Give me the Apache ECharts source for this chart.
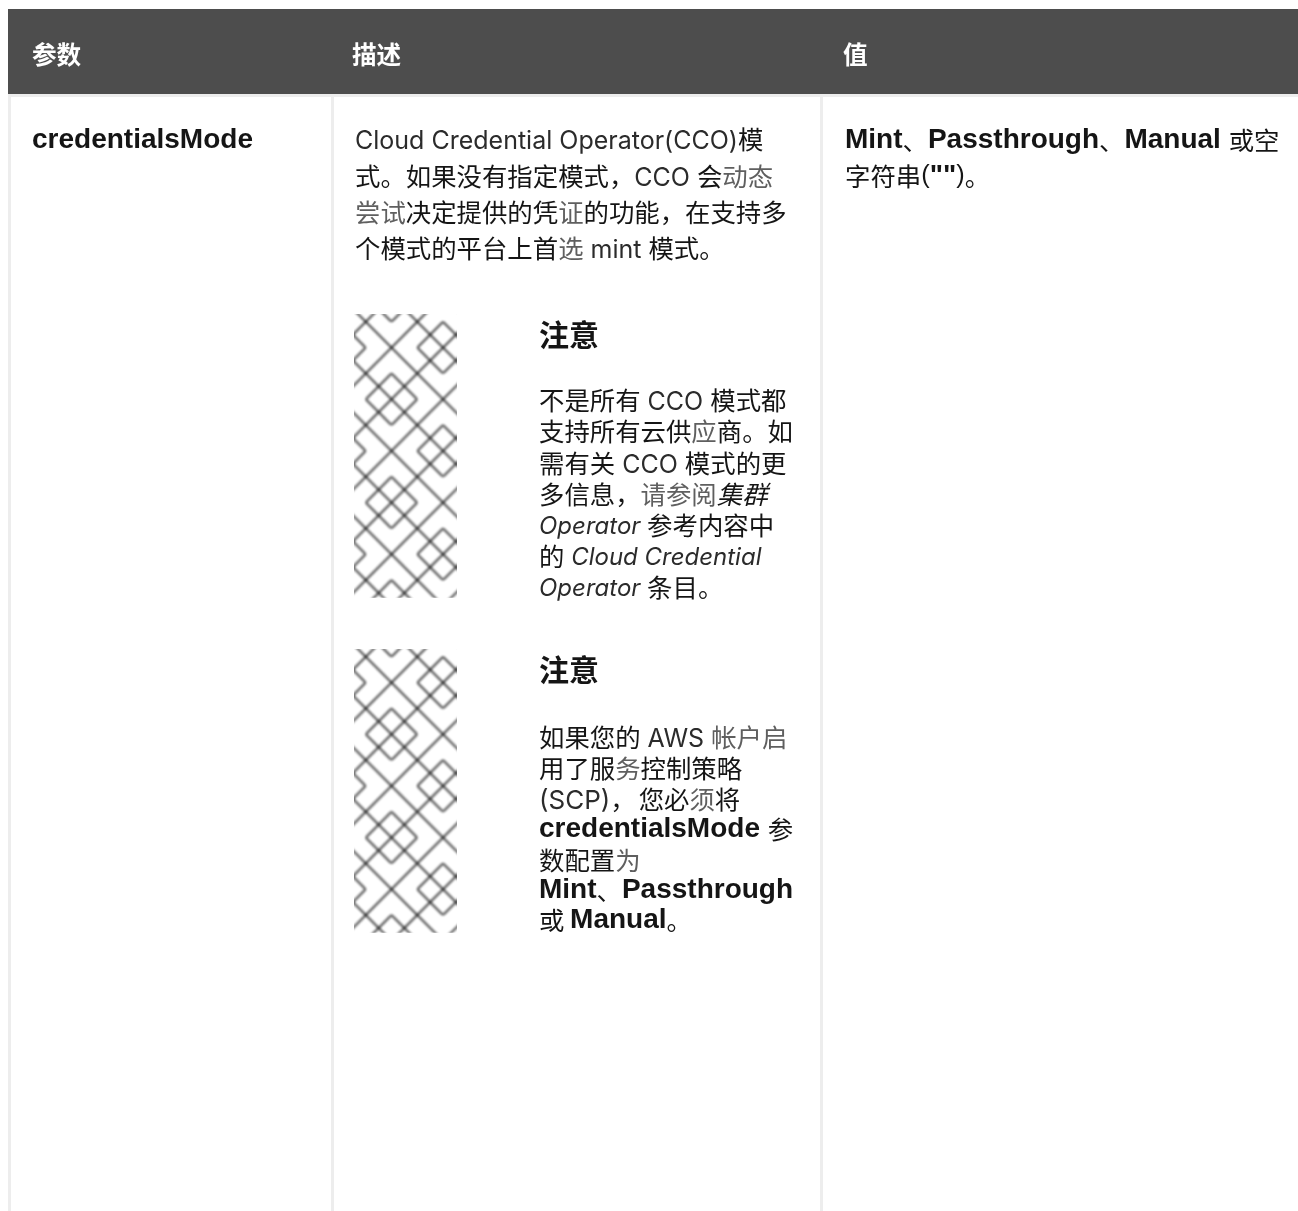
<!DOCTYPE html>
<html>
<head>
<meta charset="utf-8">
<style>
  html, body { margin: 0; padding: 0; background: #fff; }
  #chart { width: 1298px; height: 1211px; }
</style>
</head>
<body>
<div id="chart"></div>
<script src="https://cdn.jsdelivr.net/npm/echarts@6/dist/echarts.min.js"></script>
<script>
const headers = ['参数', '描述', '值']
const paramName = 'credentialsMode'
const noteTitle = '注意'

const descLines = [
  '{r|Cloud Credential Operator(CCO)}{c|模}',
  '{c|式。如果没有指定模式，}{r|CCO }{c|会}{l|动态}',
  '{l|尝试}{c|决定提供的凭}{l|证}{c|的功能，在支持多}',
  '{c|个模式的平台上首}{l|选}{r| mint }{c|模式。}'
]
const note1Lines = [
  '{c|不是所有}{r| CCO }{c|模式都}',
  '{c|支持所有云供}{l|应}{c|商。如}',
  '{c|需有关}{r| CCO }{c|模式的更}',
  '{c|多信息，}{l|请参阅}{ci|集群}',
  '{i|Operator }{c|参考内容中}',
  '{c|的}{i| Cloud Credential}',
  '{i|Operator }{c|条目。}'
]
const note2Lines = [
  '{c|如果您的}{r| AWS }{l|帐户启}',
  '{c|用了服}{l|务}{c|控制策略}',
  '{sc|(SCP)}{c|，}{cp|您必}{l|须}{c|将}',
  '{b|credentialsMode }{c|参}',
  '{c|数配置}{l|为}',
  '{b|Mint}{c|、}{b|Passthrough}',
  '{c|或 }{b|Manual}{c|。}'
]
const valueLines = [
  '{b|Mint}{c|、}{b|Passthrough}{c|、}{b|Manual }{c|或空}',
  '{c|字符串}{s|(}{b|""}{s|)}{c|。}'
]

const ink = '#151515'
const cjk = '"Noto Sans CJK SC"'
const richStyles = {
  r: { fontFamily: 'Inter', fontSize: 25, fill: '#2b2b2b', padding: [4, 0, 0, 0] },
  sc: { fontFamily: 'Inter', fontSize: 26, fill: '#2b2b2b', padding: [4, 0, 0, 0] },
  i: { fontFamily: 'Inter', fontSize: 24, fontStyle: 'italic', fill: '#2b2b2b', padding: [4, 0, 0, 0] },
  c: { fontFamily: cjk, fontSize: 25.4, fill: ink },
  cp: { fontFamily: cjk, fontSize: 25.4, fill: ink, padding: [0, 0, 0, 3] },
  ci: { fontFamily: cjk, fontSize: 25.4, fontStyle: 'italic', fill: ink },
  l: { fontFamily: cjk, fontSize: 25.4, fill: '#5f5f5f' },
  s: { fontFamily: 'Liberation Sans', fontSize: 25.4, fill: ink },
  b: { fontFamily: 'Liberation Sans', fontSize: 28, fontWeight: 'bold', fill: ink }
}

// the note icon: one repeating tile of crossing diagonals with rounded diamonds
function noteTile() {
  const size = 103
  const u = size / 8
  const offX = 11.7
  const offY = 7.7
  const canvas = document.createElement('canvas')
  canvas.width = size
  canvas.height = size
  const ctx = canvas.getContext('2d')
  ctx.filter = 'blur(0.8px)'
  ctx.strokeStyle = 'rgba(0,0,0,0.6)'
  ctx.lineWidth = 2.5
  const px = c => offX + c * u
  const py = r => offY + r * u
  // long diagonals
  for (let k = -16; k <= 32; k += 4) {
    ctx.beginPath()
    ctx.moveTo(px(k - 2), py(-2))
    ctx.lineTo(px(k + 12), py(12))
    ctx.stroke()
    ctx.beginPath()
    ctx.moveTo(px(k + 2), py(-2))
    ctx.lineTo(px(k - 12), py(12))
    ctx.stroke()
  }
  // small diamonds, rounded at their apexes
  const centres = [[6, 2], [2, 6]]
  centres.forEach(([c0, r0]) => {
    for (let dc = -8; dc <= 8; dc += 8) {
      for (let dr = -8; dr <= 8; dr += 8) {
        const c = c0 + dc
        const r = r0 + dr
        const pts = [[c, r - 2], [c + 2, r], [c, r + 2], [c - 2, r]]
        ctx.beginPath()
        ctx.moveTo((px(pts[0][0]) + px(pts[1][0])) / 2, (py(pts[0][1]) + py(pts[1][1])) / 2)
        for (let i = 1; i <= 4; i++) {
          const p = pts[i % 4]
          const q = pts[(i + 1) % 4]
          ctx.arcTo(px(p[0]), py(p[1]), px(q[0]), py(q[1]), 2)
        }
        ctx.closePath()
        ctx.stroke()
      }
    }
  })
  return canvas
}

function textBlock(lines, x, ys) {
  return lines.map((line, i) => ({
    type: 'text',
    x: x,
    y: ys[i],
    style: { text: line, rich: richStyles, verticalAlign: 'middle', align: 'left' }
  }))
}

const tile = noteTile()
function noteIcon(y) {
  return {
    type: 'rect',
    x: 354,
    y: y,
    scaleY: 1.003,
    shape: { x: 0, y: 0, width: 103, height: 283 },
    style: { fill: { image: tile, repeat: 'repeat' } }
  }
}

function rule(x, y, width, height, color) {
  return { type: 'rect', shape: { x, y, width, height }, style: { fill: color } }
}

const elements = [
  rule(8, 9, 1290, 85, '#4d4d4d'),
  rule(8, 94, 1290, 3, '#ededed'),
  rule(8, 97, 3, 1114, '#ededed'),
  rule(331, 97, 3, 1114, '#ededed'),
  rule(820, 97, 3, 1114, '#ededed'),
  noteIcon(314),
  noteIcon(649)
]

const headerX = [32, 352, 843]
headers.forEach((h, i) => {
  elements.push({
    type: 'text',
    x: headerX[i],
    y: 55,
    style: {
      text: h,
      fill: '#fff',
      fontFamily: cjk,
      fontWeight: 'bold',
      fontSize: 24.6,
      verticalAlign: 'middle'
    }
  })
})

elements.push({
  type: 'text',
  x: 32,
  y: 140,
  style: { text: paramName, fill: ink, fontFamily: 'Liberation Sans', fontWeight: 'bold', fontSize: 28, verticalAlign: 'middle' }
})

;[335, 670].forEach(y => {
  elements.push({
    type: 'text',
    x: 539,
    y: y,
    style: { text: noteTitle, fill: ink, fontFamily: cjk, fontWeight: 'bold', fontSize: 30, verticalAlign: 'middle' }
  })
})

elements.push(...textBlock(descLines, 355, [139, 176, 212, 248]))
elements.push(...textBlock(note1Lines, 539, [400, 431, 463, 494, 525, 556, 587]))
elements.push(...textBlock(note2Lines, 539, [737, 768, 799, 829, 860, 890, 920]))
elements.push(...textBlock(valueLines, 845, [140, 176]))

const chart = echarts.init(document.getElementById('chart'), null, { renderer: 'canvas' })
chart.setOption({
  backgroundColor: '#fff',
  animation: false,
  graphic: { elements: elements }
})
</script>
</body>
</html>
